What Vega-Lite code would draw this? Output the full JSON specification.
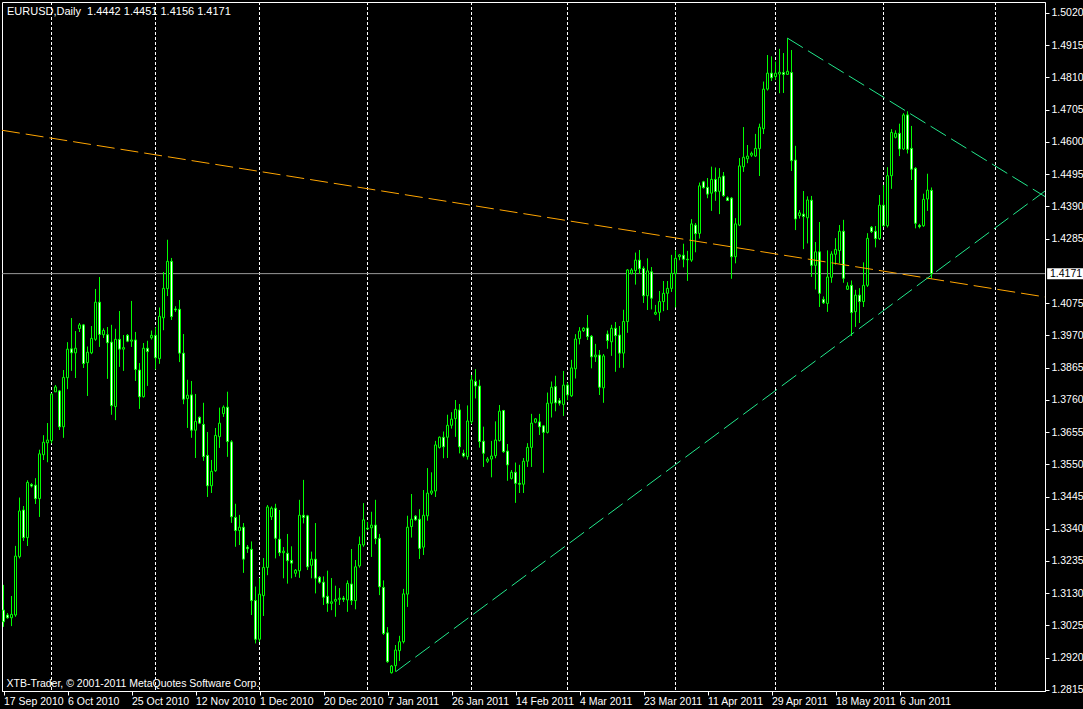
{
"$schema": "https://vega.github.io/schema/vega-lite/v6.json",
"width": 1043, "height": 689,
"autosize": {"type": "none"},
"padding": {"left": 2, "top": 2, "right": 38, "bottom": 18},
"background": "black",
"config": {
 "view": {"stroke": "white", "strokeWidth": 1},
 "font": "'Liberation Sans Narrow','Liberation Sans',sans-serif",
 "axis": {"labelFont": "'Liberation Sans Narrow','Liberation Sans',sans-serif", "titleFont": "'Liberation Sans Narrow','Liberation Sans',sans-serif", "labelColor": "white", "tickColor": "white", "domainColor": "white", "grid": false, "labelFontSize": 10.5, "titleColor": "white", "titleFontWeight": "normal", "titleFontSize": 10.5, "tickSize": 4}
},
"resolve": {"axis": {"x": "independent", "y": "independent"}},
"datasets": {
 "grid": [{"g":12},{"g":38},{"g":64},{"g":91},{"g":117},{"g":141},{"g":168},{"g":193},{"g":220},{"g":248}],
 "bid": [{"bid": 1.4171}],
 "head": [{"label": "EURUSD,Daily\u00a0 1.4442 1.4451 1.4156 1.4171"}],
 "trend": [{"t":"o","ti":-0.375,"p":1.4638},{"t":"o","ti":260.375,"p":1.4095},{"t":"g1","ti":98.125,"p":1.2875},{"t":"g1","ti":260.375,"p":1.4440},{"t":"g2","ti":196,"p":1.4938},{"t":"g2","ti":260.375,"p":1.4422}],
 "candles": [
{"i":0,"o":1.3075,"h":1.3157,"l":1.3021,"c":1.3037},
{"i":1,"o":1.3059,"h":1.3065,"l":1.3048,"c":1.3050},
{"i":2,"o":1.3050,"h":1.3121,"l":1.3023,"c":1.3061},
{"i":3,"o":1.3059,"h":1.3284,"l":1.3054,"c":1.3251},
{"i":4,"o":1.3249,"h":1.3441,"l":1.3244,"c":1.3398},
{"i":5,"o":1.3401,"h":1.3414,"l":1.3301,"c":1.3311},
{"i":6,"o":1.3311,"h":1.3497,"l":1.3284,"c":1.3491},
{"i":7,"o":1.3484,"h":1.3488,"l":1.3475,"c":1.3479},
{"i":8,"o":1.3482,"h":1.3504,"l":1.3421,"c":1.3438},
{"i":9,"o":1.3438,"h":1.3597,"l":1.3379,"c":1.3584},
{"i":10,"o":1.3581,"h":1.3644,"l":1.3564,"c":1.3622},
{"i":11,"o":1.3620,"h":1.3684,"l":1.3557,"c":1.3629},
{"i":12,"o":1.3627,"h":1.3781,"l":1.3618,"c":1.3779},
{"i":13,"o":1.3786,"h":1.3808,"l":1.3786,"c":1.3802},
{"i":14,"o":1.3789,"h":1.3792,"l":1.3662,"c":1.3672},
{"i":15,"o":1.3672,"h":1.3857,"l":1.3637,"c":1.3833},
{"i":16,"o":1.3832,"h":1.3947,"l":1.3795,"c":1.3925},
{"i":17,"o":1.3926,"h":1.4026,"l":1.3855,"c":1.3913},
{"i":18,"o":1.3913,"h":1.3984,"l":1.3831,"c":1.3928},
{"i":19,"o":1.3992,"h":1.4010,"l":1.3981,"c":1.4004},
{"i":20,"o":1.4004,"h":1.4007,"l":1.3864,"c":1.3878},
{"i":21,"o":1.3881,"h":1.3933,"l":1.3773,"c":1.3915},
{"i":22,"o":1.3913,"h":1.4000,"l":1.3909,"c":1.3960},
{"i":23,"o":1.3957,"h":1.4121,"l":1.3953,"c":1.4078},
{"i":24,"o":1.4078,"h":1.4160,"l":1.3933,"c":1.3973},
{"i":25,"o":1.3972,"h":1.3992,"l":1.3962,"c":1.3986},
{"i":26,"o":1.3972,"h":1.3997,"l":1.3829,"c":1.3946},
{"i":27,"o":1.3948,"h":1.4004,"l":1.3712,"c":1.3741},
{"i":28,"o":1.3738,"h":1.3991,"l":1.3694,"c":1.3957},
{"i":29,"o":1.3957,"h":1.4049,"l":1.3868,"c":1.3925},
{"i":30,"o":1.3925,"h":1.3971,"l":1.3855,"c":1.3930},
{"i":31,"o":1.3970,"h":1.3974,"l":1.3948,"c":1.3951},
{"i":32,"o":1.3951,"h":1.4082,"l":1.3933,"c":1.3955},
{"i":33,"o":1.3955,"h":1.3981,"l":1.3822,"c":1.3859},
{"i":34,"o":1.3857,"h":1.3879,"l":1.3731,"c":1.3770},
{"i":35,"o":1.3770,"h":1.3945,"l":1.3768,"c":1.3928},
{"i":36,"o":1.3928,"h":1.3952,"l":1.3806,"c":1.3917},
{"i":37,"o":1.3962,"h":1.3985,"l":1.3957,"c":1.3970},
{"i":38,"o":1.3970,"h":1.3996,"l":1.3859,"c":1.3897},
{"i":39,"o":1.3894,"h":1.4060,"l":1.3878,"c":1.4032},
{"i":40,"o":1.4027,"h":1.4176,"l":1.3987,"c":1.4123},
{"i":41,"o":1.4122,"h":1.4281,"l":1.4098,"c":1.4211},
{"i":42,"o":1.4211,"h":1.4222,"l":1.4020,"c":1.4031},
{"i":43,"o":1.4056,"h":1.4064,"l":1.4047,"c":1.4053},
{"i":44,"o":1.4055,"h":1.4085,"l":1.3883,"c":1.3912},
{"i":45,"o":1.3912,"h":1.3974,"l":1.3746,"c":1.3762},
{"i":46,"o":1.3764,"h":1.3825,"l":1.3669,"c":1.3775},
{"i":47,"o":1.3776,"h":1.3821,"l":1.3637,"c":1.3661},
{"i":48,"o":1.3661,"h":1.3779,"l":1.3571,"c":1.3690},
{"i":49,"o":1.3703,"h":1.3705,"l":1.3681,"c":1.3684},
{"i":50,"o":1.3680,"h":1.3750,"l":1.3562,"c":1.3575},
{"i":51,"o":1.3579,"h":1.3655,"l":1.3444,"c":1.3480},
{"i":52,"o":1.3480,"h":1.3564,"l":1.3457,"c":1.3527},
{"i":53,"o":1.3529,"h":1.3668,"l":1.3526,"c":1.3644},
{"i":54,"o":1.3640,"h":1.3734,"l":1.3604,"c":1.3684},
{"i":55,"o":1.3715,"h":1.3741,"l":1.3705,"c":1.3736},
{"i":56,"o":1.3736,"h":1.3786,"l":1.3575,"c":1.3624},
{"i":57,"o":1.3623,"h":1.3628,"l":1.3360,"c":1.3379},
{"i":58,"o":1.3377,"h":1.3421,"l":1.3282,"c":1.3334},
{"i":59,"o":1.3334,"h":1.3385,"l":1.3287,"c":1.3345},
{"i":60,"o":1.3345,"h":1.3358,"l":1.3197,"c":1.3241},
{"i":61,"o":1.3280,"h":1.3287,"l":1.3262,"c":1.3275},
{"i":62,"o":1.3273,"h":1.3298,"l":1.3059,"c":1.3106},
{"i":63,"o":1.3106,"h":1.3151,"l":1.2967,"c":1.2980},
{"i":64,"o":1.2980,"h":1.3179,"l":1.2972,"c":1.3127},
{"i":65,"o":1.3122,"h":1.3244,"l":1.3056,"c":1.3214},
{"i":66,"o":1.3214,"h":1.3417,"l":1.3189,"c":1.3411},
{"i":67,"o":1.3379,"h":1.3412,"l":1.3369,"c":1.3407},
{"i":68,"o":1.3407,"h":1.3421,"l":1.3244,"c":1.3309},
{"i":69,"o":1.3306,"h":1.3401,"l":1.3251,"c":1.3262},
{"i":70,"o":1.3262,"h":1.3280,"l":1.3179,"c":1.3267},
{"i":71,"o":1.3260,"h":1.3323,"l":1.3162,"c":1.3236},
{"i":72,"o":1.3237,"h":1.3282,"l":1.3179,"c":1.3228},
{"i":73,"o":1.3195,"h":1.3208,"l":1.3184,"c":1.3205},
{"i":74,"o":1.3203,"h":1.3434,"l":1.3181,"c":1.3384},
{"i":75,"o":1.3384,"h":1.3499,"l":1.3358,"c":1.3377},
{"i":76,"o":1.3382,"h":1.3385,"l":1.3206,"c":1.3216},
{"i":77,"o":1.3221,"h":1.3265,"l":1.3179,"c":1.3241},
{"i":78,"o":1.3241,"h":1.3358,"l":1.3130,"c":1.3179},
{"i":79,"o":1.3182,"h":1.3186,"l":1.3162,"c":1.3166},
{"i":80,"o":1.3166,"h":1.3184,"l":1.3092,"c":1.3117},
{"i":81,"o":1.3120,"h":1.3203,"l":1.3070,"c":1.3097},
{"i":82,"o":1.3097,"h":1.3179,"l":1.3075,"c":1.3102},
{"i":83,"o":1.3104,"h":1.3154,"l":1.3054,"c":1.3110},
{"i":84,"o":1.3110,"h":1.3146,"l":1.3092,"c":1.3114},
{"i":85,"o":1.3114,"h":1.3121,"l":1.3102,"c":1.3110},
{"i":86,"o":1.3108,"h":1.3171,"l":1.3070,"c":1.3162},
{"i":87,"o":1.3160,"h":1.3274,"l":1.3092,"c":1.3106},
{"i":88,"o":1.3106,"h":1.3238,"l":1.3078,"c":1.3216},
{"i":89,"o":1.3219,"h":1.3314,"l":1.3214,"c":1.3289},
{"i":90,"o":1.3287,"h":1.3423,"l":1.3282,"c":1.3369},
{"i":91,"o":1.3342,"h":1.3362,"l":1.3338,"c":1.3339},
{"i":92,"o":1.3343,"h":1.3395,"l":1.3249,"c":1.3352},
{"i":93,"o":1.3352,"h":1.3434,"l":1.3290,"c":1.3308},
{"i":94,"o":1.3309,"h":1.3323,"l":1.3124,"c":1.3151},
{"i":95,"o":1.3149,"h":1.3171,"l":1.2994,"c":1.2999},
{"i":96,"o":1.3001,"h":1.3019,"l":1.2904,"c":1.2907},
{"i":97,"o":1.2871,"h":1.2896,"l":1.2869,"c":1.2893},
{"i":98,"o":1.2894,"h":1.2961,"l":1.2875,"c":1.2945},
{"i":99,"o":1.2943,"h":1.2991,"l":1.2910,"c":1.2972},
{"i":100,"o":1.2972,"h":1.3144,"l":1.2967,"c":1.3128},
{"i":101,"o":1.3127,"h":1.3382,"l":1.3086,"c":1.3345},
{"i":102,"o":1.3347,"h":1.3453,"l":1.3312,"c":1.3371},
{"i":103,"o":1.3381,"h":1.3384,"l":1.3367,"c":1.3369},
{"i":104,"o":1.3371,"h":1.3403,"l":1.3242,"c":1.3276},
{"i":105,"o":1.3280,"h":1.3466,"l":1.3255,"c":1.3384},
{"i":106,"o":1.3382,"h":1.3537,"l":1.3367,"c":1.3456},
{"i":107,"o":1.3456,"h":1.3523,"l":1.3450,"c":1.3463},
{"i":108,"o":1.3463,"h":1.3626,"l":1.3444,"c":1.3613},
{"i":109,"o":1.3605,"h":1.3640,"l":1.3602,"c":1.3638},
{"i":110,"o":1.3638,"h":1.3656,"l":1.3570,"c":1.3607},
{"i":111,"o":1.3638,"h":1.3711,"l":1.3571,"c":1.3677},
{"i":112,"o":1.3677,"h":1.3719,"l":1.3667,"c":1.3697},
{"i":113,"o":1.3699,"h":1.3759,"l":1.3640,"c":1.3729},
{"i":114,"o":1.3727,"h":1.3746,"l":1.3586,"c":1.3607},
{"i":115,"o":1.3586,"h":1.3597,"l":1.3573,"c":1.3577},
{"i":116,"o":1.3575,"h":1.3741,"l":1.3566,"c":1.3691},
{"i":117,"o":1.3689,"h":1.3841,"l":1.3681,"c":1.3825},
{"i":118,"o":1.3820,"h":1.3859,"l":1.3765,"c":1.3805},
{"i":119,"o":1.3805,"h":1.3825,"l":1.3605,"c":1.3624},
{"i":120,"o":1.3625,"h":1.3672,"l":1.3542,"c":1.3586},
{"i":121,"o":1.3560,"h":1.3573,"l":1.3555,"c":1.3567},
{"i":122,"o":1.3567,"h":1.3626,"l":1.3508,"c":1.3577},
{"i":123,"o":1.3578,"h":1.3689,"l":1.3570,"c":1.3629},
{"i":124,"o":1.3627,"h":1.3743,"l":1.3625,"c":1.3723},
{"i":125,"o":1.3725,"h":1.3727,"l":1.3588,"c":1.3591},
{"i":126,"o":1.3593,"h":1.3616,"l":1.3497,"c":1.3548},
{"i":127,"o":1.3504,"h":1.3531,"l":1.3501,"c":1.3524},
{"i":128,"o":1.3524,"h":1.3555,"l":1.3425,"c":1.3488},
{"i":129,"o":1.3488,"h":1.3548,"l":1.3457,"c":1.3485},
{"i":130,"o":1.3485,"h":1.3570,"l":1.3457,"c":1.3560},
{"i":131,"o":1.3560,"h":1.3618,"l":1.3542,"c":1.3605},
{"i":132,"o":1.3605,"h":1.3714,"l":1.3542,"c":1.3684},
{"i":133,"o":1.3687,"h":1.3700,"l":1.3684,"c":1.3698},
{"i":134,"o":1.3688,"h":1.3714,"l":1.3646,"c":1.3672},
{"i":135,"o":1.3675,"h":1.3678,"l":1.3523,"c":1.3654},
{"i":136,"o":1.3654,"h":1.3783,"l":1.3651,"c":1.3749},
{"i":137,"o":1.3749,"h":1.3819,"l":1.3703,"c":1.3801},
{"i":138,"o":1.3803,"h":1.3838,"l":1.3723,"c":1.3750},
{"i":139,"o":1.3757,"h":1.3765,"l":1.3742,"c":1.3749},
{"i":140,"o":1.3745,"h":1.3854,"l":1.3708,"c":1.3808},
{"i":141,"o":1.3808,"h":1.3816,"l":1.3759,"c":1.3776},
{"i":142,"o":1.3773,"h":1.3890,"l":1.3770,"c":1.3864},
{"i":143,"o":1.3861,"h":1.3973,"l":1.3830,"c":1.3958},
{"i":144,"o":1.3959,"h":1.3996,"l":1.3941,"c":1.3984},
{"i":145,"o":1.3985,"h":1.3996,"l":1.3981,"c":1.3993},
{"i":146,"o":1.3994,"h":1.4036,"l":1.3955,"c":1.3966},
{"i":147,"o":1.3967,"h":1.3971,"l":1.3863,"c":1.3900},
{"i":148,"o":1.3900,"h":1.3942,"l":1.3884,"c":1.3906},
{"i":149,"o":1.3906,"h":1.3922,"l":1.3776,"c":1.3801},
{"i":150,"o":1.3799,"h":1.3909,"l":1.3751,"c":1.3903},
{"i":151,"o":1.3974,"h":1.3985,"l":1.3927,"c":1.3953},
{"i":152,"o":1.3949,"h":1.4004,"l":1.3904,"c":1.3993},
{"i":153,"o":1.3993,"h":1.4013,"l":1.3852,"c":1.3969},
{"i":154,"o":1.3971,"h":1.4000,"l":1.3865,"c":1.3912},
{"i":155,"o":1.3912,"h":1.4053,"l":1.3865,"c":1.4015},
{"i":156,"o":1.4015,"h":1.4185,"l":1.3979,"c":1.4183},
{"i":157,"o":1.4172,"h":1.4188,"l":1.4169,"c":1.4183},
{"i":158,"o":1.4181,"h":1.4239,"l":1.4136,"c":1.4215},
{"i":159,"o":1.4215,"h":1.4248,"l":1.4170,"c":1.4187},
{"i":160,"o":1.4188,"h":1.4194,"l":1.4076,"c":1.4099},
{"i":161,"o":1.4099,"h":1.4220,"l":1.4053,"c":1.4180},
{"i":162,"o":1.4177,"h":1.4192,"l":1.4055,"c":1.4091},
{"i":163,"o":1.4039,"h":1.4069,"l":1.4036,"c":1.4045},
{"i":164,"o":1.4045,"h":1.4114,"l":1.4018,"c":1.4080},
{"i":165,"o":1.4080,"h":1.4147,"l":1.4049,"c":1.4107},
{"i":166,"o":1.4107,"h":1.4147,"l":1.4053,"c":1.4123},
{"i":167,"o":1.4123,"h":1.4232,"l":1.4112,"c":1.4172},
{"i":168,"o":1.4172,"h":1.4246,"l":1.4061,"c":1.4221},
{"i":169,"o":1.4226,"h":1.4235,"l":1.4215,"c":1.4232},
{"i":170,"o":1.4231,"h":1.4268,"l":1.4192,"c":1.4218},
{"i":171,"o":1.4218,"h":1.4245,"l":1.4148,"c":1.4216},
{"i":172,"o":1.4215,"h":1.4348,"l":1.4210,"c":1.4333},
{"i":173,"o":1.4329,"h":1.4335,"l":1.4241,"c":1.4301},
{"i":174,"o":1.4302,"h":1.4467,"l":1.4286,"c":1.4457},
{"i":175,"o":1.4470,"h":1.4473,"l":1.4449,"c":1.4451},
{"i":176,"o":1.4452,"h":1.4482,"l":1.4417,"c":1.4430},
{"i":177,"o":1.4433,"h":1.4519,"l":1.4376,"c":1.4478},
{"i":178,"o":1.4478,"h":1.4516,"l":1.4409,"c":1.4438},
{"i":179,"o":1.4439,"h":1.4514,"l":1.4365,"c":1.4485},
{"i":180,"o":1.4489,"h":1.4502,"l":1.4422,"c":1.4425},
{"i":181,"o":1.4418,"h":1.4422,"l":1.4408,"c":1.4409},
{"i":182,"o":1.4417,"h":1.4420,"l":1.4155,"c":1.4226},
{"i":183,"o":1.4226,"h":1.4351,"l":1.4205,"c":1.4333},
{"i":184,"o":1.4329,"h":1.4547,"l":1.4326,"c":1.4522},
{"i":185,"o":1.4519,"h":1.4648,"l":1.4503,"c":1.4550},
{"i":186,"o":1.4545,"h":1.4590,"l":1.4531,"c":1.4554},
{"i":187,"o":1.4557,"h":1.4568,"l":1.4552,"c":1.4563},
{"i":188,"o":1.4554,"h":1.4626,"l":1.4552,"c":1.4579},
{"i":189,"o":1.4578,"h":1.4659,"l":1.4489,"c":1.4648},
{"i":190,"o":1.4643,"h":1.4796,"l":1.4626,"c":1.4772},
{"i":191,"o":1.4772,"h":1.4883,"l":1.4768,"c":1.4824},
{"i":192,"o":1.4824,"h":1.4878,"l":1.4799,"c":1.4809},
{"i":193,"o":1.4813,"h":1.4861,"l":1.4802,"c":1.4824},
{"i":194,"o":1.4821,"h":1.4903,"l":1.4759,"c":1.4827},
{"i":195,"o":1.4826,"h":1.4889,"l":1.4760,"c":1.4820},
{"i":196,"o":1.4820,"h":1.4938,"l":1.4818,"c":1.4830},
{"i":197,"o":1.4826,"h":1.4899,"l":1.4506,"c":1.4539},
{"i":198,"o":1.4541,"h":1.4587,"l":1.4313,"c":1.4349},
{"i":199,"o":1.4360,"h":1.4378,"l":1.4351,"c":1.4369},
{"i":200,"o":1.4365,"h":1.4440,"l":1.4251,"c":1.4357},
{"i":201,"o":1.4353,"h":1.4422,"l":1.4270,"c":1.4411},
{"i":202,"o":1.4410,"h":1.4424,"l":1.4161,"c":1.4198},
{"i":203,"o":1.4198,"h":1.4274,"l":1.4120,"c":1.4242},
{"i":204,"o":1.4242,"h":1.4339,"l":1.4063,"c":1.4107},
{"i":205,"o":1.4087,"h":1.4096,"l":1.4072,"c":1.4076},
{"i":206,"o":1.4074,"h":1.4246,"l":1.4047,"c":1.4160},
{"i":207,"o":1.4159,"h":1.4243,"l":1.4142,"c":1.4235},
{"i":208,"o":1.4234,"h":1.4286,"l":1.4201,"c":1.4250},
{"i":209,"o":1.4246,"h":1.4329,"l":1.4205,"c":1.4309},
{"i":210,"o":1.4309,"h":1.4346,"l":1.4142,"c":1.4156},
{"i":211,"o":1.4120,"h":1.4142,"l":1.4118,"c":1.4131},
{"i":212,"o":1.4133,"h":1.4148,"l":1.3968,"c":1.4044},
{"i":213,"o":1.4047,"h":1.4118,"l":1.3998,"c":1.4101},
{"i":214,"o":1.4101,"h":1.4123,"l":1.4011,"c":1.4080},
{"i":215,"o":1.4080,"h":1.4207,"l":1.4063,"c":1.4133},
{"i":216,"o":1.4133,"h":1.4302,"l":1.4128,"c":1.4286},
{"i":217,"o":1.4322,"h":1.4326,"l":1.4304,"c":1.4308},
{"i":218,"o":1.4309,"h":1.4326,"l":1.4257,"c":1.4285},
{"i":219,"o":1.4285,"h":1.4427,"l":1.4281,"c":1.4394},
{"i":220,"o":1.4394,"h":1.4460,"l":1.4324,"c":1.4327},
{"i":221,"o":1.4327,"h":1.4517,"l":1.4322,"c":1.4490},
{"i":222,"o":1.4490,"h":1.4641,"l":1.4448,"c":1.4631},
{"i":223,"o":1.4615,"h":1.4637,"l":1.4612,"c":1.4628},
{"i":224,"o":1.4628,"h":1.4659,"l":1.4554,"c":1.4577},
{"i":225,"o":1.4577,"h":1.4693,"l":1.4574,"c":1.4688},
{"i":226,"o":1.4688,"h":1.4699,"l":1.4563,"c":1.4576},
{"i":227,"o":1.4579,"h":1.4652,"l":1.4476,"c":1.4511},
{"i":228,"o":1.4514,"h":1.4517,"l":1.4319,"c":1.4335},
{"i":229,"o":1.4328,"h":1.4333,"l":1.4319,"c":1.4324},
{"i":230,"o":1.4327,"h":1.4431,"l":1.4324,"c":1.4413},
{"i":231,"o":1.4414,"h":1.4496,"l":1.4376,"c":1.4443},
{"i":232,"o":1.4442,"h":1.4451,"l":1.4156,"c":1.4171}
 ]
},
"layer": [
 {
  "data": {"name": "candles"},
  "mark": {"type": "rule", "color": "#00FF00", "strokeWidth": 1},
  "encoding": {
   "x": {"field": "i", "type": "quantitative", "scale": {"domain": [-0.375, 260.375], "nice": false, "zero": false, "padding": 0},
    "axis": {"values": [0,16,32,48,64,80,96,112,128,144,160,176,192,208,224],
     "labelExpr": "['17 Sep 2010','6 Oct 2010','25 Oct 2010','12 Nov 2010','1 Dec 2010','20 Dec 2010','7 Jan 2011','26 Jan 2011','14 Feb 2011','4 Mar 2011','23 Mar 2011','11 Apr 2011','29 Apr 2011','18 May 2011','6 Jun 2011'][round(datum.value/16)]",
     "labelAlign": "left", "labelDx": 2, "labelPadding": 1, "labelFlush": false, "labelOverlap": false,
     "title": "XTB-Trader, © 2001-2011 MetaQuotes Software Corp.", "titleX": 4, "titleY": -3, "titleAlign": "left", "titleBaseline": "bottom"}},
   "y": {"field": "l", "type": "quantitative", "scale": {"domain": [1.28115, 1.50558], "nice": false, "zero": false, "padding": 0},
    "axis": {"orient": "right", "values": [1.2815,1.2920,1.3025,1.3130,1.3235,1.3340,1.3445,1.3550,1.3655,1.3760,1.3865,1.3970,1.4075,1.4285,1.4390,1.4495,1.4600,1.4705,1.4810,1.4915,1.5020], "format": ".4f", "labelPadding": 2, "labelFlush": false, "labelOverlap": false, "title": null}},
   "y2": {"field": "h"}
  }
 },
 {
  "data": {"name": "grid"},
  "mark": {"type": "rule", "color": "white", "strokeWidth": 1, "strokeDash": [3, 2]},
  "encoding": {"x": {"field": "g", "type": "quantitative", "axis": null}}
 },
 {
  "data": {"name": "bid"},
  "mark": {"type": "rule", "color": "#9a9a9a", "strokeWidth": 1},
  "encoding": {"y": {"field": "bid", "type": "quantitative", "axis": null}}
 },
 {
  "data": {"name": "candles"},
  "mark": {"type": "rule", "color": "#00FF00", "strokeWidth": 1},
  "encoding": {
   "x": {"field": "i", "type": "quantitative", "axis": null},
   "y": {"field": "l", "type": "quantitative", "axis": null},
   "y2": {"field": "h"}
  }
 },
 {
  "data": {"name": "candles"},
  "mark": {"type": "bar", "size": 2, "stroke": "#00FF00", "strokeWidth": 1},
  "encoding": {
   "x": {"field": "i", "type": "quantitative", "scale": {"padding": 0}, "axis": null},
   "y": {"field": "o", "type": "quantitative", "axis": null},
   "y2": {"field": "c"},
   "fill": {"condition": {"test": "datum.c >= datum.o", "value": "black"}, "value": "white"}
  }
 },
 {
  "data": {"name": "trend"},
  "mark": {"type": "line", "strokeWidth": 1, "strokeDash": [18, 6]},
  "encoding": {
   "x": {"field": "ti", "type": "quantitative", "axis": null},
   "y": {"field": "p", "type": "quantitative", "axis": null},
   "color": {"field": "t", "type": "nominal", "scale": {"domain": ["o", "g1", "g2"], "range": ["#FFA500", "#22E88C", "#22E88C"]}, "legend": null}
  }
 },
 {
  "data": {"name": "bid"},
  "mark": {"type": "point", "shape": "M0.06,-0.153H1.25V0.153H0.06Z", "size": 5184, "filled": true, "color": "white", "opacity": 1, "strokeWidth": 0, "clip": false},
  "encoding": {
   "y": {"field": "bid", "type": "quantitative", "axis": null},
   "x": {"datum": 260.375, "type": "quantitative", "axis": null}
  }
 },
 {
  "data": {"name": "bid"},
  "mark": {"type": "text", "align": "left", "baseline": "middle", "dx": 5, "color": "black", "fontSize": 10.5, "clip": false, "font": "'Liberation Sans Narrow','Liberation Sans',sans-serif"},
  "encoding": {
   "y": {"field": "bid", "type": "quantitative", "axis": null},
   "x": {"datum": 260.375, "type": "quantitative", "axis": null},
   "text": {"field": "bid", "type": "quantitative", "format": ".4f"}
  }
 },
 {
  "data": {"name": "head"},
  "mark": {"type": "text", "align": "left", "baseline": "alphabetic", "dx": 5, "dy": 13, "color": "white", "fontSize": 11, "clip": false, "font": "'Liberation Sans Narrow','Liberation Sans',sans-serif"},
  "encoding": {
   "y": {"datum": 1.50558, "type": "quantitative", "axis": null},
   "x": {"datum": -0.375, "type": "quantitative", "axis": null},
   "text": {"field": "label", "type": "nominal"}
  }
 }
]
}
